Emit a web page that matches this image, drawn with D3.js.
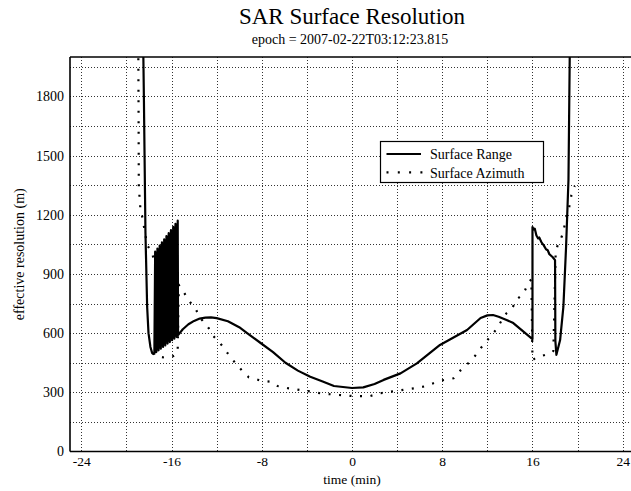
<!DOCTYPE html>
<html>
<head>
<meta charset="utf-8">
<script src="https://cdn.jsdelivr.net/npm/d3@7"></script>
<style>
  body { margin: 0; background: #fff; }
  svg { display: block; }
  text { font-family: "Liberation Serif", "Times New Roman", serif; fill: #000; }
</style>
</head>
<body>
<svg id="chart" width="631" height="491"></svg>
<script>
// ---- data ----
const titleText = "SAR Surface Resolution";
const subtitleText = "epoch = 2007-02-22T03:12:23.815";
const xLabel = "time (min)";
const yLabel = "effective resolution (m)";
const xTicks = [-24, -16, -8, 0, 8, 16, 24];
const yTicks = [0, 300, 600, 900, 1200, 1500, 1800];
const seriesNames = ["Surface Range", "Surface Azimuth"];

const rangeTime = [
  -18.52, -18.45, -18.39, -18.31, -18.16, -18.04, -17.87, -17.72, -17.62, -17.52,
  -17.45, -17.35, -17.25, -17.15, -17.05, -16.95, -16.85, -16.75, -16.65, -16.55,
  -16.45, -16.35, -16.25, -16.15, -16.05, -15.95, -15.85, -15.75, -15.65, -15.55, -15.45,
  -15.42, -15.0, -14.5, -14.0, -13.5, -13.0, -12.5, -12.0, -11.0, -10.0, -9.3, -8.1,
  -7.0, -5.9, -4.8, -3.7, -2.6, -1.6, 0.0, 1.0, 2.0, 2.8, 4.3, 5.75, 7.8, 10.2, 11.4,
  12.0, 12.5, 13.0, 13.7, 14.3, 16.0, 16.0, 16.1, 16.2, 16.35, 16.5, 16.6, 16.8, 17.0,
  17.2, 17.35, 17.5, 17.8, 18.0, 18.03, 18.12, 18.45, 18.74, 18.98, 19.19, 19.32
];
const rangeValue = [
  2100, 1800, 1500, 1108, 733, 600, 530, 500, 494, 496,
  1013, 504, 1029, 513, 1044, 521, 1060, 530, 1076, 538,
  1092, 547, 1107, 555, 1123, 564, 1139, 572, 1154, 581, 1170,
  590, 620, 645, 662, 674, 679, 680, 676, 660, 630, 600, 550,
  504, 450, 410, 379, 355, 332, 322, 325, 342, 363, 396, 447, 540, 616, 677,
  690, 692, 683, 667, 651, 570, 1138, 1125, 1130, 1095, 1080, 1085, 1060, 1045,
  1025, 1020, 1000, 985, 970, 560, 490, 565, 734, 1039, 1376, 2100
];

const azimuthTime = [
  -18.95, -18.92, -18.9, -18.75, -18.6, -18.16, -17.71, -17.57, -17.45,
  -17.35, -17.0, -16.5, -16.0, -15.6, -15.45,
  -15.35, -15.05, -14.75, -14.3, -13.9, -13.55, -12.7, -12.4, -11.8, -11.3,
  -10.8, -10.3, -9.75, -9.15, -8.7, -8.1, -7.2, -6.6, -5.6, -4.6, -3.5, -2.8,
  -1.3, 0.1, 1.6, 2.5, 4.0, 5.5, 6.6, 7.8, 9.0, 9.6, 10.3, 10.9, 11.4, 12.0,
  12.4, 12.8, 13.3, 13.7, 14.2, 14.6, 15.1, 15.35, 15.65, 15.9,
  16.0, 16.5, 17.1, 17.7, 17.85, 18.05, 18.2, 18.5, 18.7, 19.0, 19.3, 19.45, 19.75
];
const azimuthValue = [
  2100, 1700, 1341, 1224, 1191, 1047, 1006, 971, 950,
  500, 480, 475, 480, 490, 520,
  844, 819, 793, 753, 729, 684, 625, 591, 557, 520,
  480, 446, 410, 376, 371, 359, 354, 332, 320, 312, 303, 295,
  287, 281, 281, 295, 308, 320, 332, 359, 371, 410, 447, 484, 523, 565,
  591, 620, 667, 701, 726, 772, 794, 819, 856, 873,
  464, 481, 489, 501, 510, 996, 1040, 1076, 1106, 1187, 1250, 1300, 1346
];

// ---- layout ----
const svg = d3.select("#chart");
const W = 631, H = 491;
const plot = { left: 70, top: 57, right: 634, bottom: 451.5 };
const FONT = "'Liberation Serif', 'Times New Roman', serif";

const x = d3.scaleLinear().domain([-25, 25]).range([plot.left, plot.right]);
const y = d3.scaleLinear().domain([0, 2000]).range([plot.bottom, plot.top]);

svg.append("rect").attr("width", W).attr("height", H).attr("fill", "#fff");

svg.append("defs").append("clipPath").attr("id", "clip")
  .append("rect")
  .attr("x", plot.left).attr("y", plot.top)
  .attr("width", W - plot.left).attr("height", plot.bottom - plot.top);

// grid
const grid = svg.append("g").attr("stroke", "#333").attr("stroke-width", 1)
  .attr("stroke-dasharray", "1,2").attr("fill", "none");
d3.range(-24, 25, 4).forEach(v => {
  grid.append("line")
    .attr("x1", Math.round(x(v)) + 0.5).attr("x2", Math.round(x(v)) + 0.5)
    .attr("y1", plot.top).attr("y2", plot.bottom);
});
d3.range(150, 2000, 150).forEach(v => {
  grid.append("line")
    .attr("y1", Math.round(y(v)) + 0.5).attr("y2", Math.round(y(v)) + 0.5)
    .attr("x1", plot.left).attr("x2", W);
});

// series
const line = d3.line().x(d => x(d[0])).y(d => y(d[1]));
const rangeData = rangeTime.map((t, i) => [t, rangeValue[i]]);
const azData = azimuthTime.map((t, i) => [t, azimuthValue[i]]);

const gData = svg.append("g").attr("clip-path", "url(#clip)");
gData.append("path").datum(azData)
  .attr("d", line).attr("fill", "none").attr("stroke", "#000")
  .attr("stroke-width", 2.2).attr("stroke-dasharray", "2,8.5");
gData.append("path").datum(rangeData)
  .attr("d", line).attr("fill", "none").attr("stroke", "#000")
  .attr("stroke-width", 2.2).attr("stroke-linejoin", "round");

// axes
const fmt = d => String(d);
const xAxis = d3.axisBottom(x).tickValues(xTicks).tickSize(0).tickPadding(5).tickFormat(fmt);
const gx = svg.append("g").attr("transform", `translate(0,${plot.bottom})`)
  .call(xAxis).attr("font-family", FONT).attr("font-size", 13.5);
gx.select(".domain").remove();
gx.selectAll("text").style("font-family", FONT).style("font-size", "13.5px");

const yAxis = d3.axisLeft(y).tickValues(yTicks).tickSize(0).tickPadding(6).tickFormat(fmt);
const gy = svg.append("g").attr("transform", `translate(${plot.left},0)`)
  .call(yAxis).attr("font-family", FONT).attr("font-size", 14);
gy.select(".domain").remove();
gy.selectAll("text").style("font-family", FONT).style("font-size", "14px");

// frame
const frame = svg.append("g").attr("stroke", "#000").attr("stroke-width", 1.6);
frame.append("line").attr("x1", plot.left).attr("x2", W).attr("y1", plot.top).attr("y2", plot.top);
frame.append("line").attr("x1", plot.left).attr("x2", W).attr("y1", plot.bottom).attr("y2", plot.bottom);
frame.append("line").attr("x1", plot.left).attr("x2", plot.left).attr("y1", plot.top).attr("y2", plot.bottom);

// titles
svg.append("text").attr("x", 352).attr("y", 24).attr("text-anchor", "middle")
  .style("font-size", "23px").text(titleText);
svg.append("text").attr("x", 350).attr("y", 43.5).attr("text-anchor", "middle")
  .style("font-size", "14px").text(subtitleText);
svg.append("text").attr("x", 352).attr("y", 483.5).attr("text-anchor", "middle")
  .style("font-size", "13.5px").text(xLabel);
svg.append("text").attr("transform", `translate(24,${(plot.top + plot.bottom) / 2}) rotate(-90)`)
  .attr("text-anchor", "middle").style("font-size", "14px").text(yLabel);

// legend
const lg = svg.append("g");
lg.append("rect").attr("x", 380.5).attr("y", 141.5).attr("width", 163).attr("height", 41)
  .attr("fill", "#fff").attr("stroke", "#000").attr("stroke-width", 1.2);
lg.append("line").attr("x1", 386.5).attr("x2", 421).attr("y1", 154).attr("y2", 154)
  .attr("stroke", "#000").attr("stroke-width", 2.2);
lg.append("line").attr("x1", 386.5).attr("x2", 423).attr("y1", 172.3).attr("y2", 172.3)
  .attr("stroke", "#000").attr("stroke-width", 2.2).attr("stroke-dasharray", "2,9.3");
lg.append("text").attr("x", 430).attr("y", 158.5).style("font-size", "14px").text(seriesNames[0]);
lg.append("text").attr("x", 430).attr("y", 177.5).style("font-size", "14px").text(seriesNames[1]);
</script>
</body>
</html>
